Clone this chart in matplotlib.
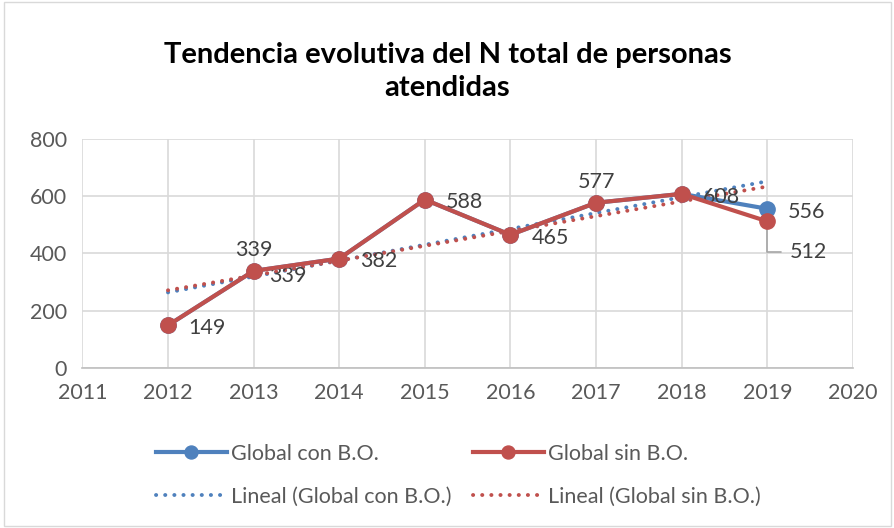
import matplotlib.pyplot as plt
import numpy as np
from matplotlib.patches import Rectangle

plt.rcParams['font.family'] = ['Lato', 'DejaVu Sans']

years = [2012, 2013, 2014, 2015, 2016, 2017, 2018, 2019]
con_bo = [149, 339, 382, 588, 465, 577, 608, 556]
sin_bo = [149, 339, 382, 588, 465, 577, 608, 512]

blue = '#4F81BD'
red = '#C0504D'
txt = '#404040'

fig = plt.figure(figsize=(8.95, 5.28), dpi=100)
ax = fig.add_axes([0.092, 0.303, 0.861, 0.434])

# lineas de tendencia (regresion lineal como en Excel)
x = np.array(years)
for serie, col, name in [(con_bo, blue, 'Lineal (Global con B.O.)'),
                         (sin_bo, red, 'Lineal (Global sin B.O.)')]:
    m, b = np.polyfit(x, serie, 1)
    ax.plot(x, m * x + b, color=col, lw=2.8, linestyle=(0, (0.05, 2.3)),
            dash_capstyle='round', label=name, zorder=2)

l1, = ax.plot(years, con_bo, color=blue, lw=3, marker='o', ms=11,
              label='Global con B.O.', zorder=3)
l2, = ax.plot(years, sin_bo, color=red, lw=3, marker='o', ms=11,
              label='Global sin B.O.', zorder=4)

# etiquetas de datos
fs = 15.5
for yr, v in zip(years, con_bo):
    if yr in (2013, 2017):
        ax.annotate(str(v), (yr, v), xytext=(0, 8), textcoords='offset points',
                    ha='center', va='bottom', fontsize=fs, color=txt)
    else:
        ax.annotate(str(v), (yr, v), xytext=(15, -2), textcoords='offset points',
                    ha='left', va='center', fontsize=fs, color=txt)
ax.annotate(str(sin_bo[1]), (years[1], sin_bo[1]), xytext=(11, -4), textcoords='offset points',
            ha='left', va='center', fontsize=fs, color=txt)
ax.annotate(str(sin_bo[-1]), (years[-1], sin_bo[-1]), xytext=(16, -22), textcoords='offset points',
            ha='left', va='center', fontsize=fs, color=txt,
            arrowprops=dict(arrowstyle='-', color='#A6A6A6', lw=1.2,
                            connectionstyle='angle,angleA=0,angleB=90,rad=0',
                            shrinkA=4, shrinkB=0))

ax.set_xlim(2011, 2020)
ax.set_ylim(0, 800)
ax.set_xticks(range(2011, 2021))
ax.set_yticks(range(0, 801, 200))
ax.grid(True, color='#D9D9D9', lw=1.2)
ax.set_axisbelow(True)
for s in ['top', 'right', 'left']:
    ax.spines[s].set_visible(False)
ax.spines['bottom'].set_color('#BFBFBF')
ax.spines['bottom'].set_linewidth(1.2)
ax.tick_params(length=0, labelsize=15.5, labelcolor='#595959', pad=11)

fig.text(0.5, 0.865, 'Tendencia evolutiva del N total de personas\natendidas',
         ha='center', va='center', fontsize=21, fontweight='bold', color='black',
         linespacing=1.35)

handles, labels = ax.get_legend_handles_labels()
order = [2, 0, 3, 1]
fig.legend([handles[i] for i in order], [labels[i] for i in order],
           loc='center', bbox_to_anchor=(0.512, 0.1), ncol=2, frameon=False,
           fontsize=15.5, labelcolor='#595959', handlelength=3.3,
           handletextpad=0.2, columnspacing=1.0, labelspacing=1.05, markerscale=0.85)

fig.patches.append(Rectangle((0.004, 0.004), 0.992, 0.992, transform=fig.transFigure,
                             fill=False, edgecolor='#D9D9D9', lw=1))

plt.savefig('out.png', dpi=100)
